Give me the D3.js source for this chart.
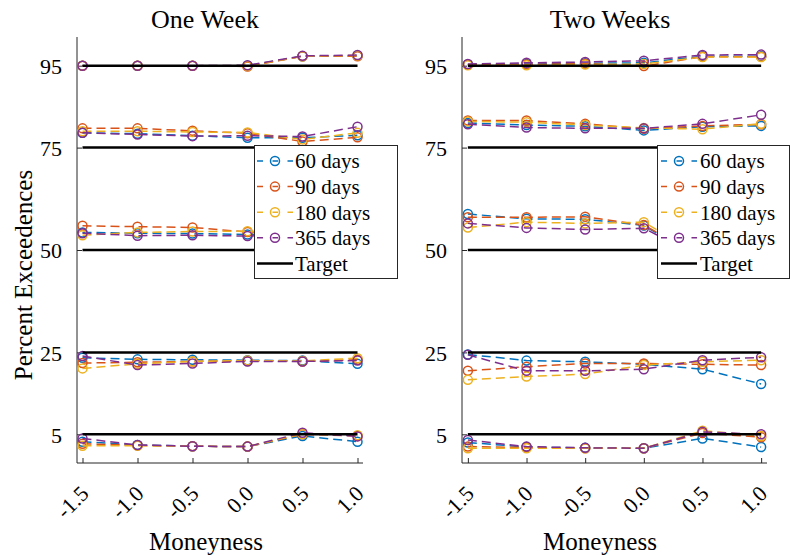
<!DOCTYPE html>
<html>
<head>
<meta charset="utf-8">
<script src="https://cdn.jsdelivr.net/npm/d3@7"></script>
<style>
  html, body { margin: 0; padding: 0; background: #fff; }
  svg { display: block; }
  svg text { font-family: "Liberation Serif", "Times New Roman", serif; }
</style>
</head>
<body>
<svg id="chart" width="794" height="556"></svg>
<script>
// Moneyness grid and coverage targets
const moneyness = [-1.5, -1.0, -0.5, 0.0, 0.5, 1.0];
const xTickLabels = ["-1.5", "-1.0", "-0.5", "0.0", "0.5", "1.0"];
const targets = [95, 75, 50, 25, 5];
const yTicks = [5, 25, 50, 75, 95];
const seriesNames = ["60 days", "90 days", "180 days", "365 days"];
const seriesColors = ["#0072BD", "#D95319", "#EDB120", "#7E2F8E"];
const FONT = "Liberation Serif";

// One-week horizon: one row per target band (95, 75, 50, 25, 5)
const week1_60 = [
  [95.0, 95.0, 95.0, 95.0, 97.3, 97.4],
  [78.6, 78.4, 77.9, 77.4, 77.4, 78.0],
  [54.3, 54.1, 54.0, 53.8, 54.0, 54.2],
  [23.7, 23.3, 23.2, 23.1, 23.0, 22.2],
  [3.2, 2.4, 2.1, 2.0, 4.6, 3.2]
];
const week1_90 = [
  [95.0, 95.0, 95.0, 94.8, 97.3, 97.3],
  [79.7, 79.7, 79.1, 78.5, 76.5, 77.5],
  [55.9, 55.7, 55.5, 54.4, 54.5, 54.6],
  [22.4, 22.6, 22.8, 22.9, 22.8, 23.2],
  [2.7, 2.3, 2.1, 2.0, 5.0, 4.6]
];
const week1_180 = [
  [95.0, 95.0, 95.0, 94.9, 97.3, 97.5],
  [79.0, 79.0, 78.8, 78.7, 77.0, 78.6],
  [53.6, 54.3, 54.5, 54.6, 54.3, 54.4],
  [21.1, 22.2, 22.8, 23.0, 22.9, 23.6],
  [2.2, 2.2, 2.1, 2.0, 5.1, 4.8]
];
const week1_365 = [
  [95.0, 95.0, 95.0, 95.1, 97.4, 97.6],
  [78.6, 78.2, 77.8, 77.9, 77.7, 80.1],
  [54.1, 53.5, 53.6, 53.4, 53.8, 54.0],
  [24.1, 21.9, 22.3, 22.8, 22.8, 23.0],
  [4.0, 2.4, 2.1, 2.0, 5.4, 4.5]
];

// Two-week horizon
const week2_60 = [
  [95.3, 95.4, 95.6, 95.7, 97.3, 97.3],
  [81.0, 80.5, 80.2, 79.2, 80.1, 80.3],
  [58.8, 57.6, 57.5, 56.0, 47.5, 49.5],
  [24.5, 23.0, 22.7, 22.1, 20.9, 17.3],
  [3.0, 1.9, 1.7, 1.6, 4.0, 1.9]
];
const week2_90 = [
  [95.2, 95.3, 95.5, 94.9, 97.2, 97.2],
  [81.6, 81.6, 80.8, 79.6, 80.3, 80.7],
  [58.0, 58.0, 58.1, 56.1, 48.0, 50.0],
  [20.5, 21.5, 22.3, 22.3, 22.1, 21.9],
  [2.0, 1.8, 1.6, 1.6, 5.3, 4.3]
];
const week2_180 = [
  [95.1, 95.1, 95.3, 95.4, 97.1, 97.1],
  [81.4, 81.2, 80.5, 79.8, 79.5, 80.8],
  [55.5, 56.8, 56.5, 56.8, 48.5, 50.5],
  [18.3, 19.1, 19.7, 21.9, 22.7, 23.1],
  [1.6, 1.6, 1.6, 1.6, 5.9, 4.6]
];
const week2_365 = [
  [95.4, 95.7, 95.9, 96.2, 97.6, 97.7],
  [80.7, 79.9, 79.7, 79.7, 80.8, 83.0],
  [56.5, 55.4, 55.0, 55.3, 48.0, 50.0],
  [24.4, 20.5, 20.5, 20.9, 23.1, 23.8],
  [3.6, 2.0, 1.7, 1.6, 5.6, 5.0]
];

const svg = d3.select("#chart");
const axisColor = "#262626";

const y = d3.scaleLinear().domain([-2, 102]).range([463, 37]);

const panels = [
  {
    title: "One Week", series: [week1_60, week1_90, week1_180, week1_365],
    xRange: [77, 363], titleX: 205, labelX: 206,
    legend: { x: 254, y: 145, w: 143, h: 133, sample: [257, 293], textX: 295 },
    showYLabel: true
  },
  {
    title: "Two Weeks", series: [week2_60, week2_90, week2_180, week2_365],
    xRange: [462, 767], titleX: 610, labelX: 600,
    legend: { x: 657, y: 145, w: 132, h: 133, sample: [661, 697], textX: 700 },
    showYLabel: false
  }
];

panels.forEach(p => {
  const x = d3.scaleLinear().domain([-1.55, 1.05]).range(p.xRange);
  const g = svg.append("g");

  // Axes: ticks point inward
  const yAxis = d3.axisLeft(y).tickValues(yTicks).tickSize(-5).tickPadding(15).tickFormat(d3.format("d"));
  const yG = g.append("g").attr("transform", `translate(${p.xRange[0]},0)`).call(yAxis);
  const xAxis = d3.axisBottom(x).tickValues(moneyness).tickSize(-5).tickFormat((d, i) => xTickLabels[i]);
  const xG = g.append("g").attr("transform", `translate(0,${y.range()[0]})`).call(xAxis);

  [yG, xG].forEach(a => {
    a.attr("font-family", FONT);
    a.select(".domain").attr("stroke", axisColor).attr("stroke-width", 1);
    a.selectAll(".tick line").attr("stroke", axisColor);
    a.selectAll("text").attr("fill", "#000").attr("font-family", FONT);
  });
  yG.select(".domain").attr("d", `M0,${y.range()[0]}V${y.range()[1]}`);
  xG.select(".domain").attr("d", `M${p.xRange[0]},0H${p.xRange[1]}`);
  yG.selectAll("text").attr("font-size", 22).attr("dy", "0.35em");
  xG.selectAll("text")
    .attr("font-size", 22)
    .attr("text-anchor", "end")
    .attr("dy", 0)
    .attr("y", 0)
    .attr("transform", "translate(7,32) rotate(-45)");

  // Series lines and markers
  const line = d3.line().x((d, i) => x(moneyness[i])).y(d => y(d));
  p.series.forEach((bands, si) => {
    const color = seriesColors[si];
    const sg = g.append("g");
    bands.forEach(vals => {
      sg.append("path")
        .attr("d", line(vals))
        .attr("fill", "none")
        .attr("stroke", color)
        .attr("stroke-width", 1.5)
        .attr("stroke-dasharray", "9,5");
      sg.selectAll(null).data(vals).join("circle")
        .attr("cx", (d, i) => x(moneyness[i]))
        .attr("cy", d => y(d))
        .attr("r", 4.5)
        .attr("fill", "none")
        .attr("stroke", color)
        .attr("stroke-width", 1.5);
    });
  });

  // Target levels
  g.selectAll(null).data(targets).join("line")
    .attr("x1", x(moneyness[0])).attr("x2", x(moneyness[moneyness.length - 1]))
    .attr("y1", d => y(d)).attr("y2", d => y(d))
    .attr("stroke", "#000").attr("stroke-width", 2.5);

  // Titles and axis labels
  g.append("text").attr("x", p.titleX).attr("y", 28).attr("font-family", FONT)
    .attr("text-anchor", "middle").attr("font-size", 26).attr("fill", "#000").text(p.title);
  g.append("text").attr("x", p.labelX).attr("y", 550).attr("font-family", FONT)
    .attr("text-anchor", "middle").attr("font-size", 25).attr("fill", "#000").text("Moneyness");
  if (p.showYLabel) {
    g.append("text").attr("transform", "translate(32,275) rotate(-90)").attr("font-family", FONT)
      .attr("text-anchor", "middle").attr("font-size", 25).attr("fill", "#000").text("Percent Exceedences");
  }

  // Legend
  const L = p.legend;
  const lg = g.append("g");
  lg.append("rect").attr("x", L.x + 0.5).attr("y", L.y + 0.5).attr("width", L.w).attr("height", L.h)
    .attr("fill", "#fff").attr("stroke", axisColor).attr("stroke-width", 1);
  const rowY = i => L.y + 16 + i * 25.6;
  const entries = seriesNames.map((n, i) => ({ name: n, color: seriesColors[i], marker: true }))
    .concat([{ name: "Target", color: "#000", marker: false }]);
  entries.forEach((e, i) => {
    const cy = rowY(i);
    const mid = (L.sample[0] + L.sample[1]) / 2;
    if (e.marker) {
      lg.append("line").attr("x1", L.sample[0]).attr("x2", L.sample[1]).attr("y1", cy).attr("y2", cy)
        .attr("stroke", e.color).attr("stroke-width", 1.5).attr("stroke-dasharray", "6,9.5,5.5,9.5,6");
      lg.append("circle").attr("cx", mid).attr("cy", cy).attr("r", 4.5)
        .attr("fill", "none").attr("stroke", e.color).attr("stroke-width", 1.5);
    } else {
      lg.append("line").attr("x1", L.sample[0]).attr("x2", L.sample[1]).attr("y1", cy).attr("y2", cy)
        .attr("stroke", e.color).attr("stroke-width", 2.5);
    }
    lg.append("text").attr("x", L.textX).attr("y", cy).attr("dy", "0.35em").attr("font-family", FONT)
      .attr("font-size", 21).attr("fill", "#000").text(e.name);
  });
});
</script>
</body>
</html>
